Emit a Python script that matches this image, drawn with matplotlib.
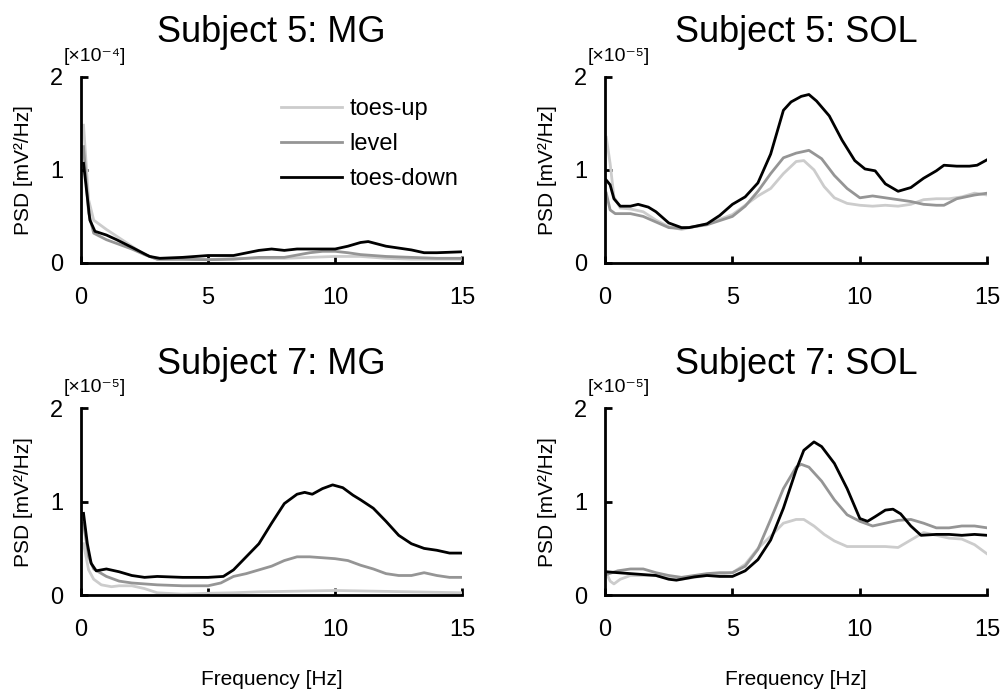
import matplotlib
matplotlib.use("Agg")
import matplotlib.pyplot as plt

plt.rcParams["font.family"] = ["Liberation Sans", "DejaVu Sans"]

conditions = ["toes-up", "level", "toes-down"]
line_colors = ["#cccccc", "#959595", "#000000"]

titles = ["Subject 5: MG", "Subject 5: SOL", "Subject 7: MG", "Subject 7: SOL"]
multipliers = ["[×10⁻⁴]", "[×10⁻⁵]", "[×10⁻⁵]", "[×10⁻⁵]"]

# Subject 5: MG  (x 10^-4 mV^2/Hz)
s5mg_up_f = [0.1, 0.3, 0.5, 1, 1.5, 2, 2.5, 3, 4, 5, 6, 7, 8, 9, 10, 11, 12, 13, 15]
s5mg_up = [1.48, 0.68, 0.46, 0.36, 0.27, 0.18, 0.09, 0.04, 0.04, 0.035, 0.05, 0.05, 0.05,
           0.06, 0.07, 0.07, 0.05, 0.04, 0.04]
s5mg_lv_f = [0.1, 0.3, 0.5, 1, 1.5, 2, 2.5, 3, 4, 5, 6, 7, 8, 9, 9.5, 10, 10.5, 11, 12, 13, 14, 15]
s5mg_lv = [1.25, 0.54, 0.32, 0.25, 0.2, 0.15, 0.09, 0.04, 0.04, 0.035, 0.04, 0.06, 0.06,
           0.11, 0.125, 0.125, 0.11, 0.09, 0.07, 0.06, 0.05, 0.05]
s5mg_dn_f = [0.1, 0.35, 0.55, 1.0, 1.4, 2.06, 2.7, 3.1, 4, 5, 6, 7, 7.5, 8, 8.5, 9, 10, 10.5,
             11, 11.3, 12, 13, 13.5, 14, 15]
s5mg_dn = [1.07, 0.46, 0.34, 0.30, 0.25, 0.16, 0.07, 0.05, 0.06, 0.08, 0.08, 0.135, 0.15,
           0.135, 0.15, 0.15, 0.15, 0.18, 0.22, 0.23, 0.18, 0.14, 0.11, 0.11, 0.12]

# Subject 5: SOL  (x 10^-5)
s5sol_up_f = [0.05, 0.2, 0.35, 0.6, 1, 1.5, 2, 2.5, 3, 4, 5, 5.5, 6, 6.5, 7, 7.5, 7.8, 8.2,
              8.6, 9, 9.5, 10, 10.5, 11, 11.5, 12, 12.5, 13, 13.5, 14, 14.5, 15]
s5sol_up = [1.35, 1.07, 0.71, 0.59, 0.58, 0.55, 0.46, 0.39, 0.36, 0.42, 0.52, 0.62, 0.72,
            0.80, 0.96, 1.09, 1.10, 1.00, 0.82, 0.70, 0.64, 0.62, 0.61, 0.62, 0.61, 0.63,
            0.68, 0.69, 0.69, 0.71, 0.75, 0.73]
s5sol_lv_f = [0.05, 0.2, 0.4, 1, 1.5, 2, 2.5, 3, 4, 5, 5.5, 6, 6.5, 7, 7.5, 8, 8.5, 9, 9.5,
              10, 10.5, 11, 11.5, 12, 12.5, 13, 13.3, 13.8, 14.5, 15]
s5sol_lv = [0.75, 0.57, 0.53, 0.53, 0.50, 0.44, 0.38, 0.37, 0.41, 0.50, 0.61, 0.77, 0.96,
            1.13, 1.18, 1.21, 1.12, 0.94, 0.80, 0.70, 0.72, 0.70, 0.68, 0.66, 0.63, 0.62,
            0.62, 0.69, 0.73, 0.75]
s5sol_dn_f = [0.05, 0.2, 0.35, 0.6, 1.0, 1.3, 1.7, 2.0, 2.5, 3, 3.3, 4, 4.5, 5, 5.5, 6, 6.5,
              7, 7.3, 7.7, 8, 8.3, 8.8, 9.3, 9.8, 10.2, 10.6, 11, 11.5, 12, 12.5, 13, 13.3,
              13.8, 14.3, 14.6, 15]
s5sol_dn = [0.89, 0.84, 0.69, 0.61, 0.61, 0.63, 0.60, 0.55, 0.43, 0.38, 0.38, 0.42, 0.51,
            0.63, 0.71, 0.86, 1.17, 1.64, 1.73, 1.79, 1.81, 1.74, 1.58, 1.32, 1.10, 1.01,
            0.99, 0.85, 0.77, 0.81, 0.91, 0.99, 1.05, 1.04, 1.04, 1.05, 1.11]

# Subject 7: MG  (x 10^-5)
s7mg_up_f = [0.1, 0.3, 0.5, 0.8, 1.2, 1.5, 2, 2.5, 3, 4, 5, 6, 7, 8, 9, 10, 11, 12, 13, 14, 15]
s7mg_up = [0.55, 0.27, 0.17, 0.11, 0.09, 0.10, 0.10, 0.07, 0.025, 0.01, 0.02, 0.025, 0.035,
           0.04, 0.045, 0.05, 0.045, 0.04, 0.035, 0.03, 0.025]
s7mg_lv_f = [0.1, 0.3, 0.5, 1, 1.5, 2, 3, 4, 5, 5.5, 6, 6.5, 7, 7.5, 8, 8.5, 9, 10, 10.5,
             11, 11.5, 12, 12.5, 13, 13.5, 14, 14.5, 15]
s7mg_lv = [0.77, 0.41, 0.28, 0.20, 0.15, 0.13, 0.11, 0.10, 0.10, 0.13, 0.20, 0.23, 0.27,
           0.31, 0.37, 0.41, 0.41, 0.39, 0.37, 0.32, 0.28, 0.23, 0.21, 0.21, 0.24, 0.21,
           0.19, 0.19]
s7mg_dn_f = [0.1, 0.25, 0.4, 0.6, 1, 1.5, 2, 2.5, 3, 4, 5, 5.6, 6, 6.5, 7, 7.5, 8, 8.5, 8.8,
             9.1, 9.5, 9.9, 10.3, 10.7, 11, 11.5, 12, 12.5, 13, 13.5, 14, 14.5, 15]
s7mg_dn = [0.875, 0.55, 0.34, 0.26, 0.28, 0.25, 0.21, 0.19, 0.20, 0.19, 0.19, 0.20, 0.27,
           0.41, 0.55, 0.77, 0.98, 1.08, 1.10, 1.08, 1.14, 1.18, 1.15, 1.07, 1.02, 0.93,
           0.79, 0.64, 0.55, 0.50, 0.48, 0.45, 0.45]

# Subject 7: SOL  (x 10^-5)
s7sol_up_f = [0.05, 0.2, 0.35, 0.6, 1, 1.5, 2, 2.5, 3, 3.5, 4, 5, 5.5, 6, 6.5, 7, 7.5, 7.8,
              8.2, 8.6, 9, 9.5, 10, 10.5, 11, 11.5, 12, 12.5, 13, 13.5, 14, 14.5, 15]
s7sol_up = [0.24, 0.15, 0.12, 0.17, 0.21, 0.21, 0.21, 0.18, 0.17, 0.19, 0.21, 0.24, 0.33,
            0.50, 0.63, 0.77, 0.81, 0.81, 0.74, 0.65, 0.58, 0.52, 0.52, 0.52, 0.52, 0.51,
            0.59, 0.67, 0.64, 0.61, 0.60, 0.54, 0.44]
s7sol_lv_f = [0.05, 0.5, 1, 1.5, 2, 2.5, 3, 3.5, 4, 4.5, 5, 5.5, 6, 6.5, 7, 7.5, 7.7, 8, 8.5,
              9, 9.5, 10, 10.5, 11, 11.5, 12, 12.5, 13, 13.5, 14, 14.5, 15]
s7sol_lv = [0.22, 0.26, 0.28, 0.28, 0.24, 0.21, 0.19, 0.21, 0.23, 0.24, 0.24, 0.31, 0.49,
            0.81, 1.14, 1.37, 1.40, 1.37, 1.22, 1.02, 0.86, 0.79, 0.74, 0.77, 0.80, 0.81,
            0.77, 0.72, 0.72, 0.74, 0.74, 0.72]
s7sol_dn_f = [0.05, 0.5, 1, 1.5, 2, 2.5, 2.8, 3.2, 3.5, 4, 4.5, 5, 5.5, 6, 6.5, 7, 7.5, 7.8,
              8.2, 8.5, 9, 9.5, 10, 10.3, 10.6, 11, 11.3, 11.6, 12, 12.4, 13, 13.5, 14,
              14.5, 15]
s7sol_dn = [0.25, 0.24, 0.23, 0.22, 0.21, 0.17, 0.16, 0.18, 0.195, 0.21, 0.20, 0.20, 0.26,
            0.38, 0.59, 0.93, 1.34, 1.55, 1.64, 1.59, 1.41, 1.14, 0.82, 0.79, 0.84, 0.91,
            0.92, 0.87, 0.74, 0.64, 0.65, 0.65, 0.64, 0.65, 0.64]

panels = [
    [(s5mg_up_f, s5mg_up), (s5mg_lv_f, s5mg_lv), (s5mg_dn_f, s5mg_dn)],
    [(s5sol_up_f, s5sol_up), (s5sol_lv_f, s5sol_lv), (s5sol_dn_f, s5sol_dn)],
    [(s7mg_up_f, s7mg_up), (s7mg_lv_f, s7mg_lv), (s7mg_dn_f, s7mg_dn)],
    [(s7sol_up_f, s7sol_up), (s7sol_lv_f, s7sol_lv), (s7sol_dn_f, s7sol_dn)],
]

fig = plt.figure(figsize=(10.06, 6.92), dpi=100)
rects = [
    [0.0805, 0.620, 0.379, 0.269],
    [0.6014, 0.620, 0.380, 0.269],
    [0.0805, 0.140, 0.379, 0.270],
    [0.6014, 0.140, 0.380, 0.270],
]

for i, rect in enumerate(rects):
    ax = fig.add_axes(rect)
    for (f, p), name, c in zip(panels[i], conditions, line_colors):
        ax.plot(f, p, color=c, lw=2.0, label=name, solid_joinstyle="round")
    ax.set_xlim(0, 15)
    ax.set_ylim(0, 2)
    ax.set_xticks([0, 5, 10, 15])
    ax.set_yticks([0, 1, 2])
    for side in ["top", "right"]:
        ax.spines[side].set_visible(False)
    for side in ["left", "bottom"]:
        ax.spines[side].set_linewidth(2.0)
    ax.tick_params(direction="in", length=5, width=2.0, labelsize=17)
    ax.tick_params(axis="x", pad=17)
    ax.tick_params(axis="y", pad=13)
    ax.set_ylabel("PSD [mV²/Hz]", fontsize=15, labelpad=12)
    ax.set_title(titles[i], fontsize=26, pad=25)
    ax.text(-0.045, 1.065, multipliers[i], transform=ax.transAxes, fontsize=14,
            ha="left", va="bottom")
    if i >= 2:
        ax.set_xlabel("Frequency [Hz]", fontsize=15, labelpad=21)
    if i == 0:
        ax.legend(loc="upper right", bbox_to_anchor=(1.045, 1.0), frameon=False,
                  fontsize=17, handlelength=2.6, handletextpad=0.3, labelspacing=0.55)

fig.savefig("out.png", dpi=100)
